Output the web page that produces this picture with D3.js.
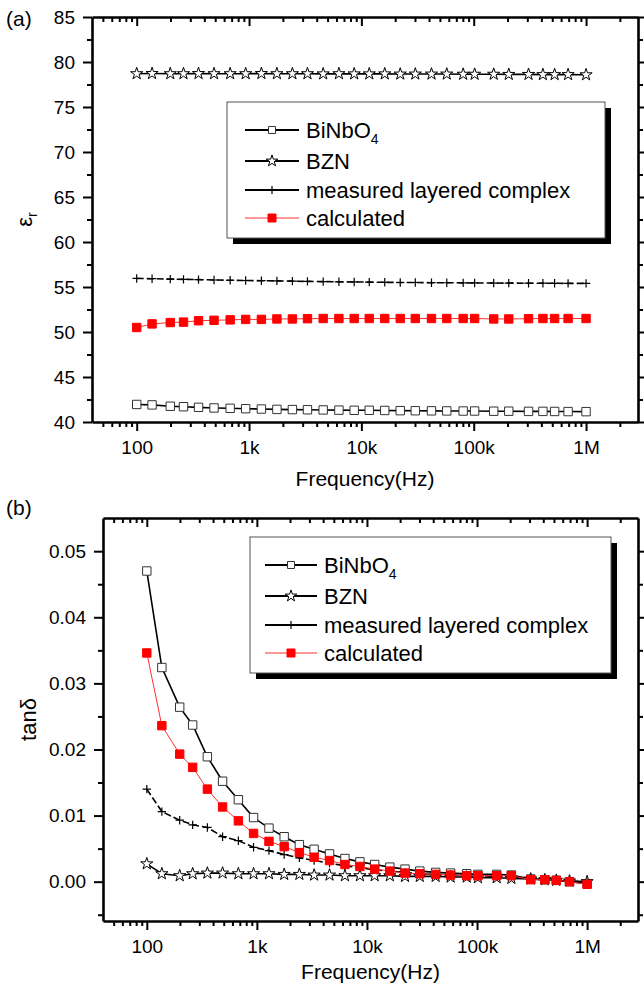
<!DOCTYPE html>
<html>
<head>
<meta charset="utf-8">
<title>Dielectric constant and loss vs frequency</title>
<script src="https://cdn.jsdelivr.net/npm/d3@7"></script>
<style>
    body { margin: 0; background: #fff; }
    svg { display: block; font-family: "Liberation Sans", Arial, sans-serif; }
    .axis path, .axis line { stroke: #000; }
    .axis text { font-size: 19px; fill: #000; }
</style>
</head>
<body>
<div id="chart"></div>
<script>
// measurement frequencies (Hz), shared by every series
var freq = [100, 137, 199, 261, 355, 488, 679, 933, 1288, 1770, 2432, 3311, 4571, 6310, 8630,
    11750, 16140, 22180, 30200, 42070, 57540, 80540, 101860, 150660, 205100, 307600, 413000,
    525000, 692000, 1000000];

var seriesNames = ['BiNbO4', 'BZN', 'measured layered complex', 'calculated'];
var freqTicks = [100, 1e3, 1e4, 1e5, 1e6];
var freqTickLabels = ['100', '1k', '10k', '100k', '1M'];

// (a) relative permittivity
var epsBiNbO4 = [41.95, 41.9, 41.75, 41.7, 41.63, 41.56, 41.52, 41.48, 41.44, 41.4, 41.38, 41.36,
    41.34, 41.32, 41.3, 41.3, 41.28, 41.26, 41.25, 41.24, 41.23, 41.22, 41.22, 41.2, 41.2, 41.18,
    41.18, 41.17, 41.16, 41.15];
var epsBZN = [78.7, 78.72, 78.7, 78.7, 78.72, 78.7, 78.7, 78.7, 78.72, 78.7, 78.7, 78.7, 78.68,
    78.7, 78.68, 78.68, 78.68, 78.66, 78.66, 78.66, 78.66, 78.64, 78.64, 78.64, 78.62, 78.62,
    78.6, 78.6, 78.6, 78.58];
var epsMeasured = [55.95, 55.92, 55.88, 55.85, 55.82, 55.78, 55.75, 55.72, 55.7, 55.68, 55.65,
    55.62, 55.6, 55.58, 55.56, 55.54, 55.52, 55.5, 55.5, 55.48, 55.47, 55.46, 55.45, 55.44,
    55.43, 55.42, 55.42, 55.41, 55.4, 55.4];
var epsCalc = [50.5, 50.9, 51.05, 51.1, 51.25, 51.3, 51.35, 51.4, 51.4, 51.45, 51.45, 51.48,
    51.5, 51.5, 51.5, 51.5, 51.5, 51.5, 51.5, 51.5, 51.5, 51.5, 51.5, 51.45, 51.45, 51.48, 51.5,
    51.5, 51.5, 51.5];
var epsTicks = [40, 45, 50, 55, 60, 65, 70, 75, 80, 85];

// (b) loss tangent
var tanBiNbO4 = [0.0470, 0.0324, 0.0264, 0.0237, 0.0189, 0.0152, 0.0124, 0.0097, 0.0081, 0.0068,
    0.0056, 0.0049, 0.0042, 0.0035, 0.0030, 0.0026, 0.0022, 0.0019, 0.0016, 0.0014, 0.0013,
    0.0012, 0.0011, 0.0011, 0.0010, 0.0004, 0.0003, 0.0002, 0.0000, -0.0003];
var tanBZN = [0.0027, 0.0012, 0.0009, 0.0012, 0.0013, 0.0013, 0.0012, 0.0012, 0.0012, 0.0011,
    0.0011, 0.0010, 0.0010, 0.0009, 0.0009, 0.0009, 0.0009, 0.0008, 0.0008, 0.0008, 0.0007,
    0.0007, 0.0006, 0.0006, 0.0005, 0.0004, 0.0003, 0.0002, 0.0001, 0.0000];
var tanMeasured = [0.0140, 0.0106, 0.0093, 0.0086, 0.0082, 0.0068, 0.0062, 0.0052, 0.0047,
    0.0041, 0.0036, 0.0032, 0.0028, 0.0024, 0.0021, 0.0018, 0.0016, 0.0014, 0.0012, 0.0011,
    0.0010, 0.0009, 0.0009, 0.0008, 0.0008, 0.0004, 0.0003, 0.0002, 0.0001, -0.0001];
var tanCalc = [0.0346, 0.0236, 0.0193, 0.0173, 0.0140, 0.0113, 0.0092, 0.0073, 0.0061, 0.0053,
    0.0044, 0.0037, 0.0032, 0.0026, 0.0023, 0.0019, 0.0016, 0.0013, 0.0012, 0.0011, 0.0010,
    0.0009, 0.0009, 0.0009, 0.0009, 0.0003, 0.0003, 0.0002, 0.0000, -0.0004];
var tanTicks = [0, 0.01, 0.02, 0.03, 0.04, 0.05];

var width = 644;
var height = 988;

var svg = d3.select('#chart')
    .append('svg')
    .attr('width', width)
    .attr('height', height);

// marker styles, one per series
var styles = [
    { marker: 'square', fill: '#fff', stroke: '#333', line: '#000', lw: 1.6, dash: null },
    { marker: 'star', fill: '#fff', stroke: '#000', line: '#000', lw: 1.6, dash: null },
    { marker: 'plus', fill: 'none', stroke: '#000', line: '#000', lw: 1.6, dash: '7,3' },
    { marker: 'square', fill: '#ff0000', stroke: '#ff0000', line: '#ff3030', lw: 1, dash: null }
];

function markerPath(type, s) {
    if (type === 'plus') return 'M' + (-s) + ',0H' + s + 'M0,' + (-s) + 'V' + s;
    if (type === 'star') return d3.symbol().type(d3.symbolStar).size(s * s * 2.6)();
    return d3.symbol().type(d3.symbolSquare).size(s * s * 4)();
}

function drawMarker(g, st, x, y, s) {
    g.append('path')
        .attr('transform', 'translate(' + x + ',' + y + ')')
        .attr('d', markerPath(st.marker, s))
        .attr('fill', st.fill)
        .attr('stroke', st.stroke)
        .attr('stroke-width', st.marker === 'plus' ? 1.2 : 1);
}

function minorFreq(domain) {
    var out = [];
    for (var e = 1; e <= 6; e++) {
        for (var k = 2; k <= 9; k++) {
            var v = k * Math.pow(10, e);
            if (v > domain[0] && v < domain[1]) out.push(v);
        }
    }
    return out;
}

function drawPanel(p) {
    var x = d3.scaleLog().domain([40, 2.9e6]).range([p.left, p.right]);
    var y = d3.scaleLinear().domain(p.yDomain).range([p.bottom, p.top]);
    var minorX = minorFreq(x.domain());

    var g = svg.append('g');

    // frame and ticks
    g.append('g').attr('class', 'axis')
        .attr('transform', 'translate(0,' + p.bottom + ')')
        .call(d3.axisBottom(x).tickValues(freqTicks).tickSize(9).tickSizeOuter(0).tickPadding(10)
            .tickFormat(function (d, i) { return freqTickLabels[i]; }));
    g.append('g').attr('class', 'axis minor')
        .attr('transform', 'translate(0,' + p.bottom + ')')
        .call(d3.axisBottom(x).tickValues(minorX).tickSize(5).tickFormat(''));
    g.append('g').attr('class', 'axis')
        .attr('transform', 'translate(0,' + p.top + ')')
        .call(d3.axisTop(x).tickValues(freqTicks).tickSize(-9).tickSizeOuter(0).tickFormat(''));
    g.append('g').attr('class', 'axis minor')
        .attr('transform', 'translate(0,' + p.top + ')')
        .call(d3.axisTop(x).tickValues(minorX).tickSize(-5).tickFormat(''));

    g.append('g').attr('class', 'axis')
        .attr('transform', 'translate(' + p.left + ',0)')
        .call(d3.axisLeft(y).tickValues(p.yTicks).tickSize(9).tickSizeOuter(0).tickPadding(8)
            .tickFormat(p.yFormat));
    g.append('g').attr('class', 'axis minor')
        .attr('transform', 'translate(' + p.left + ',0)')
        .call(d3.axisLeft(y).tickValues(p.yMinor).tickSize(5).tickFormat(''));
    g.append('g').attr('class', 'axis')
        .attr('transform', 'translate(' + p.right + ',0)')
        .call(d3.axisRight(y).tickValues(p.yTicks).tickSize(9).tickSizeOuter(0).tickFormat(''));
    g.append('g').attr('class', 'axis minor')
        .attr('transform', 'translate(' + p.right + ',0)')
        .call(d3.axisRight(y).tickValues(p.yMinor).tickSize(5).tickFormat(''));

    g.selectAll('.axis line').attr('stroke-width', 2);
    g.selectAll('.minor path').remove();
    g.selectAll('.axis path').attr('stroke-width', 2.6);

    // data
    var plot = g.append('g');
    var line = d3.line()
        .x(function (d) { return x(d[0]); })
        .y(function (d) { return y(d[1]); });

    p.series.forEach(function (vals, i) {
        var st = styles[i];
        var pts = freq.map(function (f, j) { return [f, vals[j]]; });
        plot.append('path')
            .attr('d', line(pts))
            .attr('fill', 'none')
            .attr('stroke', st.line)
            .attr('stroke-width', st.lw)
            .attr('stroke-dasharray', st.dash);
        pts.forEach(function (d) {
            drawMarker(plot, st, x(d[0]), y(d[1]), 4.2);
        });
    });

    // legend with drop shadow
    var lg = g.append('g').attr('transform', 'translate(' + p.legX + ',' + p.legY + ')');
    lg.append('rect')
        .attr('x', 6).attr('y', 6)
        .attr('width', p.legW).attr('height', 136)
        .attr('fill', '#000');
    lg.append('rect')
        .attr('width', p.legW).attr('height', 136)
        .attr('fill', '#fff')
        .attr('stroke', '#555')
        .attr('stroke-width', 1);

    var rowY = [28, 59, 88, 116];
    seriesNames.forEach(function (name, i) {
        var st = styles[i];
        lg.append('line')
            .attr('x1', p.legLine[0]).attr('x2', p.legLine[1])
            .attr('y1', rowY[i]).attr('y2', rowY[i])
            .attr('stroke', st.line)
            .attr('stroke-width', i === 3 ? 1 : 2.2);
        drawMarker(lg, st, (p.legLine[0] + p.legLine[1]) / 2, rowY[i], i === 0 ? 3.5 : 4);
        var t = lg.append('text')
            .attr('x', p.legLine[1] + 7)
            .attr('y', rowY[i] + 8)
            .attr('font-size', 22);
        if (name === 'BiNbO4') {
            t.append('tspan').text('BiNbO');
            t.append('tspan').attr('font-size', 14).attr('dy', 6).text('4');
        } else {
            t.text(name);
        }
    });

    // axis titles
    g.append('text')
        .attr('x', (p.left + p.right) / 2)
        .attr('y', p.bottom + p.titleDy)
        .attr('text-anchor', 'middle')
        .attr('font-size', 21)
        .text('Frequency(Hz)');

    var yl = g.append('text')
        .attr('transform', 'translate(' + p.yLabelX + ',' + ((p.top + p.bottom) / 2) + ') rotate(-90)')
        .attr('text-anchor', 'middle')
        .attr('font-size', 22);
    p.yLabel(yl);

    g.append('text')
        .attr('x', 6)
        .attr('y', p.tagY)
        .attr('font-size', 21)
        .text(p.tag);
}

drawPanel({
    tag: '(a)', tagY: 26,
    left: 92, right: 638, top: 17, bottom: 422, titleDy: 64,
    yDomain: [40, 85],
    yTicks: epsTicks,
    yMinor: [42.5, 47.5, 52.5, 57.5, 62.5, 67.5, 72.5, 77.5, 82.5],
    yFormat: d3.format('d'),
    yLabelX: 32,
    yLabel: function (t) {
        t.append('tspan').text('\u03b5');
        t.append('tspan').attr('font-size', 14).attr('dy', 5).text('r');
    },
    series: [epsBiNbO4, epsBZN, epsMeasured, epsCalc],
    legX: 227, legY: 102, legW: 378, legLine: [18, 72]
});

drawPanel({
    tag: '(b)', tagY: 515,
    left: 103, right: 638, top: 518, bottom: 921, titleDy: 58,
    yDomain: [-0.00595, 0.05502],
    yTicks: tanTicks,
    yMinor: [-0.005, 0.005, 0.015, 0.025, 0.035, 0.045],
    yFormat: d3.format('.2f'),
    yLabelX: 36,
    yLabel: function (t) { t.text('tan\u03b4'); },
    series: [tanBiNbO4, tanBZN, tanMeasured, tanCalc],
    legX: 250, legY: 537, legW: 361, legLine: [15, 67]
});
</script>
</body>
</html>
